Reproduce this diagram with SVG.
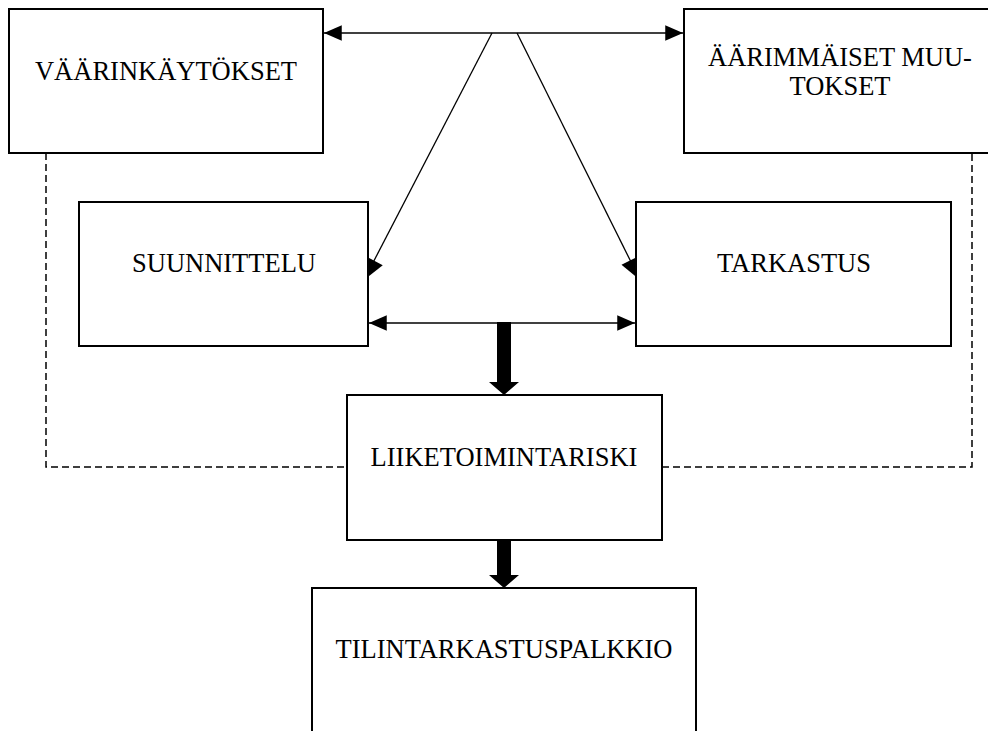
<svg xmlns="http://www.w3.org/2000/svg" width="988" height="731" viewBox="0 0 988 731">
<style>
.box{fill:#fff;stroke:#000;stroke-width:2}
.lbl{font-family:'Liberation Serif','Times New Roman',Times,serif;font-size:26.5px;fill:#000;text-anchor:middle}
.thin{stroke:#000;stroke-width:1.3;fill:none}
.dash{stroke:#000;stroke-width:1.5;fill:none;stroke-dasharray:7,4}
.thick{fill:#000;stroke:none}
</style>
<defs>
<marker id="ah" markerUnits="userSpaceOnUse" markerWidth="20" markerHeight="20" viewBox="-17 -8 18 16" refX="0" refY="0" orient="auto-start-reverse">
<path d="M0,0 L-16,-7 L-16,7 Z" fill="#000"/>
</marker>
<marker id="ah2" markerUnits="userSpaceOnUse" markerWidth="24" markerHeight="22" viewBox="-21 -10 22 20" refX="0" refY="0" orient="auto">
<path d="M0,0 L-20,-9 L-20,9 Z" fill="#000"/>
</marker>
</defs>
<g id="connectors">
<path class="dash" d="M46,153 V467 H347"/>
<path class="dash" d="M662,467 H972 V153"/>
<line class="thin" x1="324" y1="33" x2="683" y2="33" marker-start="url(#ah)" marker-end="url(#ah)"/>
<line class="thin" x1="492" y1="33" x2="364" y2="280" marker-end="url(#ah2)"/>
<line class="thin" x1="517" y1="33" x2="640" y2="280" marker-end="url(#ah2)"/>
<line class="thin" x1="369" y1="323" x2="635" y2="323" marker-start="url(#ah)" marker-end="url(#ah)"/>
<path class="thick" d="M497,322 H511 V382 H519 L504,395 L489,382 H497 Z"/>
<path class="thick" d="M497,540 H511 V575 H519 L504,588 L489,575 H497 Z"/>
</g>
<g id="node-vaarinkaytokset">
<rect class="box" x="9" y="9" width="314" height="144"/>
<text class="lbl" x="166" y="80">VÄÄRINKÄYTÖKSET</text>
</g>
<g id="node-aarimmaiset">
<rect class="box" x="684" y="9" width="320" height="144"/>
<text class="lbl" x="840" y="66">ÄÄRIMMÄISET MUU-</text>
<text class="lbl" x="840" y="95">TOKSET</text>
</g>
<g id="node-suunnittelu">
<rect class="box" x="79" y="202" width="289" height="144"/>
<text class="lbl" x="224" y="272">SUUNNITTELU</text>
</g>
<g id="node-tarkastus">
<rect class="box" x="636" y="202" width="315" height="144"/>
<text class="lbl" x="794" y="272">TARKASTUS</text>
</g>
<g id="node-liiketoimintariski">
<rect class="box" x="347" y="395" width="315" height="145"/>
<text class="lbl" x="504" y="466">LIIKETOIMINTARISKI</text>
</g>
<g id="node-tilintarkastuspalkkio">
<rect class="box" x="312" y="588" width="384" height="160"/>
<text class="lbl" x="504" y="658">TILINTARKASTUSPALKKIO</text>
</g>
</svg>
